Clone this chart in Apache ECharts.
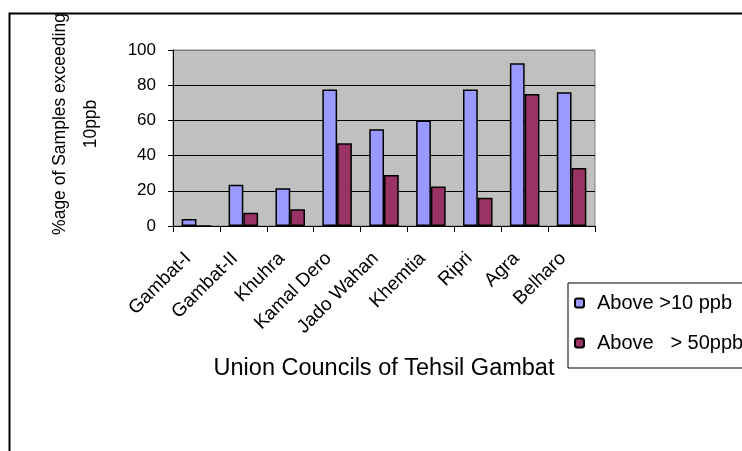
<!DOCTYPE html>
<html>
<head>
<meta charset="utf-8">
<script src="https://cdn.jsdelivr.net/npm/echarts@6/dist/echarts.min.js"></script>
<style>
html,body{margin:0;padding:0;background:#fff;}
#chart{width:742px;height:451px;}
</style>
</head>
<body>
<div id="chart"></div>
<script>
var categories = ['Gambat-I','Gambat-II','Khuhra','Kamal Dero','Jado Wahan','Khemtia','Ripri','Agra','Belharo'];
var above10 = [4, 23.5, 21.5, 77.5, 55, 60, 77.5, 92.5, 76];
var above50 = [0, 7.5, 9.5, 47, 29, 22.5, 16, 75, 33];
var seriesNames = ['Above >10 ppb', 'Above   > 50ppb'];
var yTicks = {min: 0, max: 100, interval: 20};

var FONT = '"Liberation Sans", Arial, sans-serif';
var chart = echarts.init(document.getElementById('chart'), null, {renderer: 'canvas'});
chart.setOption({
  backgroundColor: '#ffffff',
  animation: false,
  graphic: [{
    type: 'rect', left: 7, top: 11, z: -10,
    shape: {width: 800, height: 500},
    style: {fill: 'none', stroke: '#000', lineWidth: 2}
  }],
  grid: {
    left: 173, top: 50, right: 147, bottom: 225,
    show: true, backgroundColor: '#C0C0C0', borderColor: '#808080', borderWidth: 1
  },
  legend: {
    orient: 'vertical', left: 568, top: 283,
    padding: [10, 60, 15, 6],
    itemGap: 20, itemWidth: 9, itemHeight: 9,
    borderColor: '#000', borderWidth: 1,
    textStyle: {fontFamily: FONT, fontSize: 20, color: '#000', lineHeight: 20, padding: [0,0,0,8]},
    data: seriesNames
  },
  xAxis: {
    type: 'category', data: categories,
    name: 'Union Councils of Tehsil Gambat', nameLocation: 'middle', nameGap: 131,
    nameTextStyle: {fontFamily: FONT, fontSize: 23.5, color: '#000'},
    axisLine: {lineStyle: {color: '#000', width: 1}},
    axisTick: {show: true, length: 6, lineStyle: {color: '#000'}},
    axisLabel: {rotate: 45, margin: 21, fontFamily: FONT, fontSize: 19, color: '#000', interval: 0,
                padding: [0, 12, 0, 0]}
  },
  yAxis: {
    type: 'value', min: yTicks.min, max: yTicks.max, interval: yTicks.interval,
    name: '%age of Samples exceeding\n10ppb', nameLocation: 'middle', nameGap: 66, nameRotate: 90,
    nameTextStyle: {fontFamily: FONT, fontSize: 17.5, color: '#000', lineHeight: 31, align: 'center', padding: [0,0,0,28]},
    axisLine: {show: true, lineStyle: {color: '#000', width: 1}},
    axisTick: {show: true, length: 5, lineStyle: {color: '#000'}},
    axisLabel: {margin: 17, fontFamily: FONT, fontSize: 17, color: '#000'},
    splitLine: {show: true, lineStyle: {color: ['#000','#000','#000','#000','#000','#808080'], width: 1}}
  },
  series: [
    {name: seriesNames[0], type: 'bar', data: above10, barGap: '0%', barCategoryGap: '37%',
     itemStyle: {color: '#9999FF', borderColor: '#000', borderWidth: 1.5}},
    {name: seriesNames[1], type: 'bar', data: above50,
     itemStyle: {color: '#993366', borderColor: '#000', borderWidth: 1.5}}
  ]
});
</script>
</body>
</html>
